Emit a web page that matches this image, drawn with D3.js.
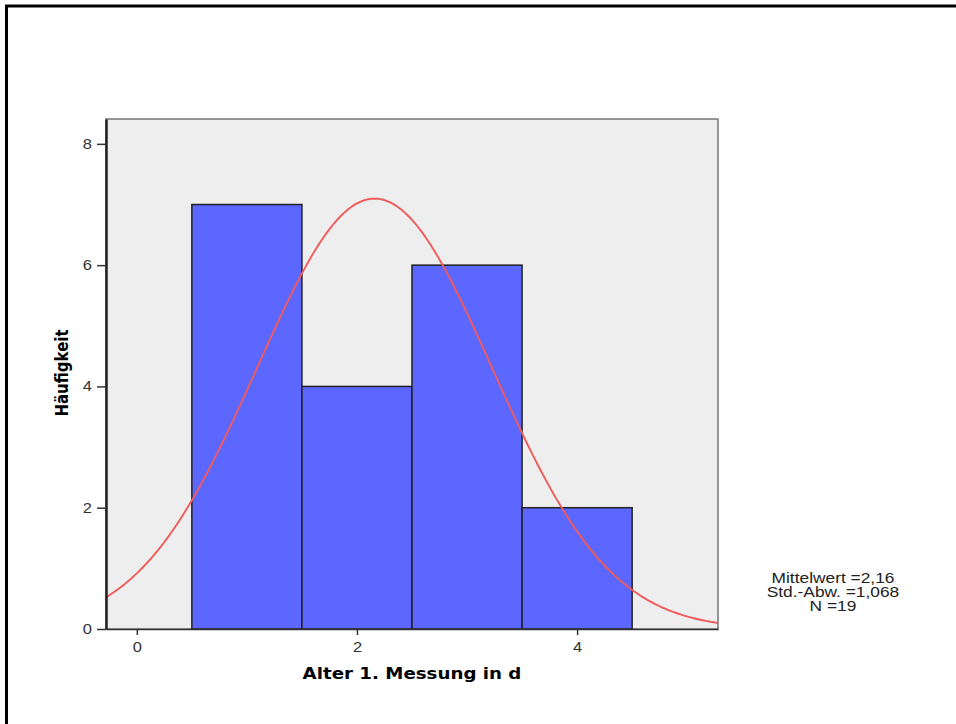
<!DOCTYPE html>
<html>
<head>
<meta charset="utf-8">
<script src="https://cdn.jsdelivr.net/npm/d3@7"></script>
<style>
  body { margin: 0; background: #fff; }
  svg { display: block; }
  .tick text { font-family: "Liberation Sans", Arial, sans-serif; font-size: 14px; fill: #333; }
</style>
</head>
<body>
<svg id="chart"></svg>
<script>
// Histogram bins (Alter 1. Messung in d)
const binStarts = [0.5, 1.5, 2.5, 3.5];
const binEnds = [1.5, 2.5, 3.5, 4.5];
const counts = [7, 4, 6, 2];
const xTicks = [0, 2, 4];
const yTicks = [0, 2, 4, 6, 8];
// Summary statistics shown beside the chart
const mean = 2.16;
const sd = 1.068;
const n = 19;
const statLines = ['Mittelwert =2,16', 'Std.-Abw. =1,068', 'N =19'];

const width = 956, height = 724;
const margin = {top: 119, right: 238, bottom: 95, left: 106};
const innerW = width - margin.left - margin.right;
const innerH = height - margin.top - margin.bottom;
const stretch = 1.18; // the source picture is slightly wide

const svg = d3.select('#chart').attr('width', width).attr('height', height);

// outer frame (left and top edges)
svg.append('path')
  .attr('d', `M6.5,${height} V6 H${width}`)
  .attr('fill', 'none').attr('stroke', '#000').attr('stroke-width', 3);

const xScale = d3.scaleLinear().domain([-0.28, 5.28]).range([0, innerW]);
const yScale = d3.scaleLinear().domain([0, 8.41]).range([innerH, 0]);

const chart = svg.append('g').attr('transform', `translate(${margin.left},${margin.top})`);

chart.append('rect')
  .attr('width', innerW).attr('height', innerH)
  .attr('fill', '#eeeeee').attr('stroke', '#777').attr('stroke-width', 1.5);

// bars
const bins = counts.map((c, i) => ({x0: binStarts[i], x1: binEnds[i], count: c}));
chart.selectAll('.bar')
  .data(bins)
  .join('rect')
  .attr('class', 'bar')
  .attr('x', d => xScale(d.x0))
  .attr('width', d => xScale(d.x1) - xScale(d.x0))
  .attr('y', d => yScale(d.count))
  .attr('height', d => innerH - yScale(d.count))
  .attr('fill', '#5b67ff')
  .attr('stroke', '#222')
  .attr('stroke-width', 1.5);

// fitted normal curve from the stated mean / sd / N (bin width 1)
const [xmin, xmax] = xScale.domain();
const curvePts = d3.range(xmin, xmax + 0.001, 0.02).map(x => [
  x, n / (sd * Math.sqrt(2 * Math.PI)) * Math.exp(-0.5 * ((x - mean) / sd) ** 2)
]);
chart.append('path')
  .datum(curvePts)
  .attr('fill', 'none')
  .attr('stroke', '#f05a5a')
  .attr('stroke-width', 1.9)
  .attr('d', d3.line().x(d => xScale(d[0])).y(d => yScale(d[1])));

// axes
const xAxis = d3.axisBottom(xScale).tickValues(xTicks).tickFormat(d3.format('d'))
  .tickSize(6).tickSizeOuter(0).tickPadding(7);
const yAxis = d3.axisLeft(yScale).tickValues(yTicks).tickFormat(d3.format('d'))
  .tickSize(9).tickSizeOuter(0).tickPadding(3);

const xAxisG = chart.append('g').attr('transform', `translate(0,${innerH})`).call(xAxis);
xAxisG.select('.domain').attr('stroke', '#333').attr('stroke-width', 1.5);
xAxisG.selectAll('.tick line').attr('stroke', '#333').attr('stroke-width', 1.5);
xAxisG.selectAll('.tick text').attr('transform', `scale(${stretch},1)`);

const yAxisG = chart.append('g').call(yAxis);
yAxisG.select('.domain').attr('stroke', '#222').attr('stroke-width', 2.5);
yAxisG.selectAll('.tick line').attr('stroke', '#333').attr('stroke-width', 1.5);
yAxisG.selectAll('.tick text').attr('transform', `scale(${stretch},1)`);

// axis titles
chart.append('g')
  .attr('transform', `translate(${innerW / 2},${innerH + 50}) scale(1.14,1)`)
  .append('text')
  .attr('text-anchor', 'middle')
  .style('font-family', '"DejaVu Sans", Verdana, sans-serif')
  .style('font-weight', 'bold').style('font-size', '16px')
  .text('Alter 1. Messung in d');

chart.append('g')
  .attr('transform', `translate(-38,${innerH / 2 - 1}) scale(${stretch},1) rotate(-90)`)
  .append('text')
  .attr('text-anchor', 'middle')
  .style('font-family', '"DejaVu Sans", Verdana, sans-serif')
  .style('font-weight', 'bold').style('font-size', '15px')
  .text('Häufigkeit');

// stats box
svg.append('g')
  .attr('transform', `translate(833,0) scale(1.24,1)`)
  .selectAll('text')
  .data(statLines)
  .join('text')
  .attr('x', 0)
  .attr('y', (d, i) => 583 + i * 14)
  .attr('text-anchor', 'middle')
  .style('font-family', '"Liberation Sans", Arial, sans-serif')
  .style('font-size', '14px')
  .attr('fill', '#222')
  .text(d => d);
</script>
</body>
</html>
